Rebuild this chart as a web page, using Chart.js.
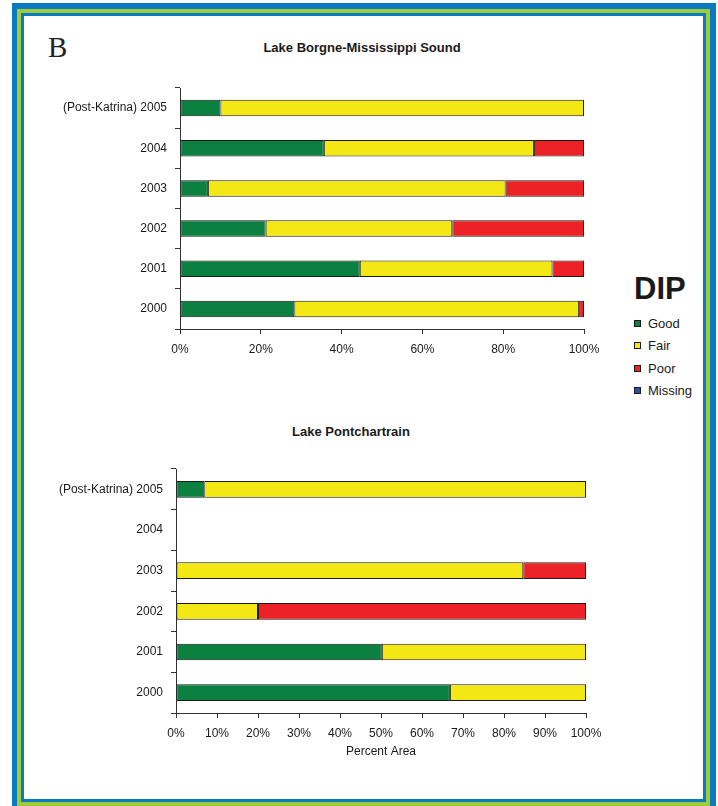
<!DOCTYPE html>
<html lang="en">
<head>
  <meta charset="UTF-8" />
  <title>DIP - Lake Borgne / Lake Pontchartrain</title>
  <script src="https://cdn.jsdelivr.net/npm/chart.js"></script>
  <style>
    body {
      margin: 0;
      width: 718px;
      height: 806px;
      overflow: hidden;
      background: #fff;
      position: relative;
      font-family: "Liberation Sans", Arial, sans-serif;
      color: #1a1a1a;
    }
    .frame { position: absolute; }
    #f1 { left: 12px; top: 3px; width: 704px; height: 900px; background: #0a7ac0; }
    #f2 { left: 17px; top: 9px; width: 693px; height: 900px; background: #9dcb3b; }
    #f3 { left: 21px; top: 13px; width: 685px; height: 789px; background: #0a7ac0; }
    #f4 { left: 24px; top: 16px; width: 679px; height: 783px; background: #fff; }

    .panel-letter {
      position: absolute;
      left: 48px;
      top: 31px;
      font: 29px "Liberation Serif", "Times New Roman", serif;
      color: #222;
    }
    .chart-title {
      position: absolute;
      width: 300px;
      text-align: center;
      font: bold 13px "Liberation Sans Narrow", "Liberation Sans", Arial, sans-serif;
      color: #1a1a1a;
    }
    .chart-box { position: absolute; left: 20px; width: 600px; }
    #legend {
      position: absolute;
      left: 634px;
      top: 271px;
    }
    #legend .head { font: bold 31px "Liberation Sans", Arial, sans-serif; color: #1a1a1a; margin-bottom: 5px; }
    #legend .item { height: 22.5px; font-size: 13px; display: flex; align-items: center; }
    #legend .sw { width: 5px; height: 5px; border: 1px solid #1a1a1a; margin-right: 7px; }
  </style>
</head>
<body>
  <div class="frame" id="f1"></div>
  <div class="frame" id="f2"></div>
  <div class="frame" id="f3"></div>
  <div class="frame" id="f4"></div>

  <div class="panel-letter">B</div>
  <div class="chart-title" style="left:212px; top:40px;">Lake Borgne-Mississippi Sound</div>
  <div class="chart-title" style="left:201px; top:424px;">Lake Pontchartrain</div>

  <div class="chart-box" style="top:80px; height:290px;"><canvas id="borgneChart"></canvas></div>
  <div class="chart-box" style="top:460px; height:310px;"><canvas id="pontChart"></canvas></div>

  <div id="legend"></div>

  <script>
    const years = ['(Post-Katrina) 2005', '2004', '2003', '2002', '2001', '2000'];

    // Lake Borgne-Mississippi Sound, percent area
    const borgneGood = [10, 35.6, 6.9, 21.2, 44.5, 28.3];
    const borgneFair = [90, 52.0, 73.7, 46.2, 47.7, 70.5];
    const borgnePoor = [null, 12.4, 19.4, 32.6, 7.8, 1.2];

    // Lake Pontchartrain, percent area (no 2004 data)
    const pontGood = [6.9, null, null, null, 50.2, 66.8];
    const pontFair = [93.1, null, 84.7, 20, 49.8, 33.2];
    const pontPoor = [null, null, 15.3, 80, null, null];

    const categories = ['Good', 'Fair', 'Poor', 'Missing'];
    const colors = ['#0b8040', '#f3e813', '#ec2227', '#2e4d9f'];

    Chart.defaults.font.family = '"Liberation Sans", Arial, sans-serif';
    Chart.defaults.font.size = 12;
    Chart.defaults.color = '#1a1a1a';

    function makeDatasets(good, fair, poor) {
      return [good, fair, poor].map((data, i) => ({
        label: categories[i],
        data: data,
        backgroundColor: colors[i],
        borderColor: '#1a1a1a',
        borderWidth: 1,
        borderSkipped: false,
        categoryPercentage: 1,
        barPercentage: 0.41,
      }));
    }

    function createChart(id, good, fair, poor, opts) {
      const ctx = document.getElementById(id).getContext('2d');
      return new Chart(ctx, {
        type: 'bar',
        data: { labels: years, datasets: makeDatasets(good, fair, poor) },
        options: {
          indexAxis: 'y',
          animation: false,
          responsive: true,
          maintainAspectRatio: false,
          layout: { padding: { top: opts.padTop, right: opts.padRight, left: 0, bottom: 0 } },
          plugins: { legend: { display: false }, tooltip: { enabled: false } },
          scales: {
            x: {
              stacked: true,
              min: 0,
              max: 100,
              ticks: { stepSize: opts.step, padding: 8, maxRotation: 0, callback: v => v + '%' },
              grid: { drawOnChartArea: false, drawTicks: true, tickLength: 5, color: '#333' },
              border: { display: true, color: '#333' },
              title: opts.xTitle ? { display: true, text: opts.xTitle, font: { size: 12 }, padding: { top: 4, bottom: 11 } } : { display: false },
              afterFit: s => { s.height = opts.xHeight; }
            },
            y: {
              stacked: true,
              ticks: { padding: 8 },
              grid: { offset: true, drawOnChartArea: false, drawTicks: true, tickLength: 5, color: '#333' },
              border: { display: true, color: '#333' },
              afterFit: s => { s.width = opts.yWidth; s.paddingTop = 0; s.paddingBottom = 0; }
            }
          }
        }
      });
    }

    createChart('borgneChart', borgneGood, borgneFair, borgnePoor,
      { padTop: 8, padRight: 36, step: 20, xHeight: 41, yWidth: 160 });
    createChart('pontChart', pontGood, pontFair, pontPoor,
      { padTop: 9, padRight: 34, step: 10, xHeight: 57, yWidth: 156, xTitle: 'Percent Area' });

    // legend
    const legend = document.getElementById('legend');
    legend.innerHTML = '<div class="head">DIP</div>' + categories.map((c, i) =>
      `<div class="item"><span class="sw" style="background:${colors[i]}"></span>${c}</div>`).join('');
  </script>
</body>
</html>
